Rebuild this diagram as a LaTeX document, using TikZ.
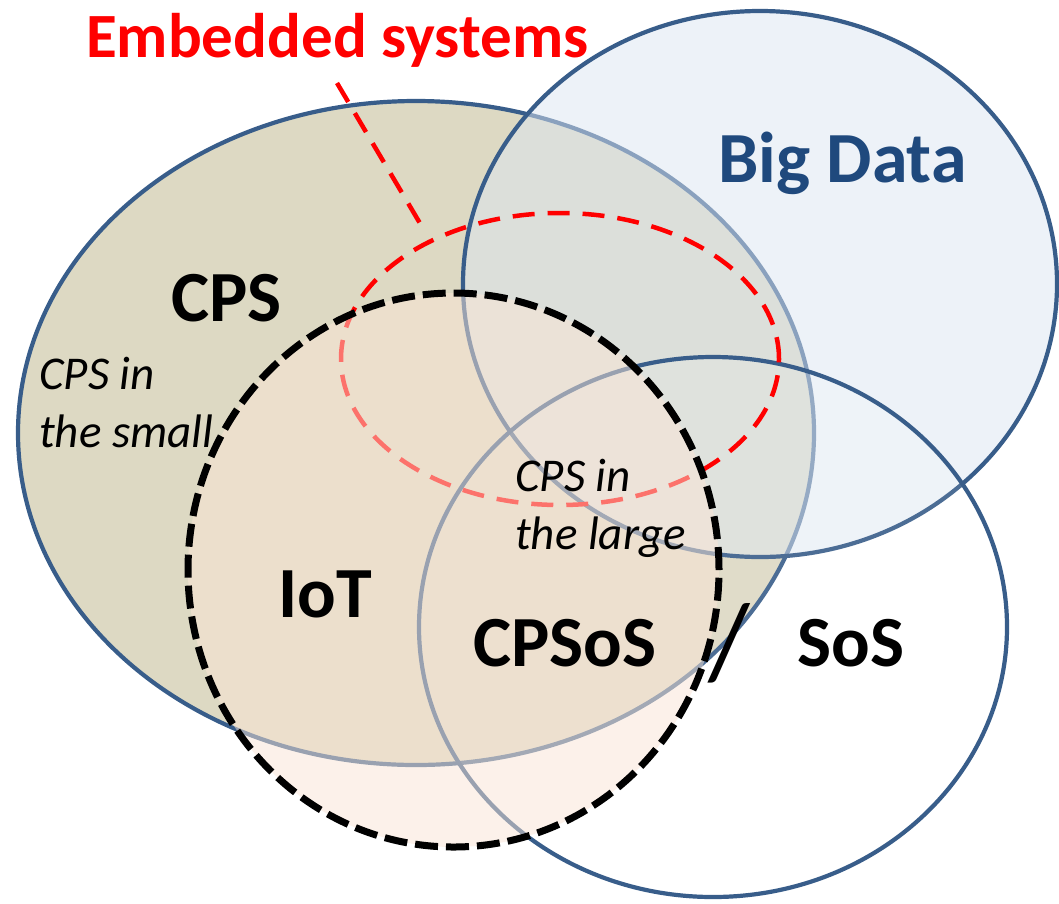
\documentclass[tikz,border=0pt]{standalone}
\usepackage{fontspec}
\setmainfont{Carlito}
\definecolor{cpsfill}{HTML}{DDD9C3}
\definecolor{edgeblue}{HTML}{385D8A}
\definecolor{bdfill}{HTML}{DCE6F2}
\definecolor{iotfill}{HTML}{FBE5D6}
\definecolor{bdtext}{HTML}{1F497D}
\begin{document}
\begin{tikzpicture}[x=1pt,y=-1pt,
  setedge/.style={draw=edgeblue, line width=4.2pt},
  reddash/.style={draw=red, line width=4.5pt, dash pattern=on 22pt off 13pt},
  iotdash/.style={draw=black, line width=7pt, dash pattern=on 23pt off 8pt},
  bigtxt/.style={font=\fontsize{72}{86}\selectfont\bfseries, inner sep=0pt, anchor=base west},
  smalltxt/.style={font=\fontsize{47}{58}\selectfont\itshape, inner sep=0pt, align=left, anchor=base west}]
\useasboundingbox (0,0) rectangle (1059,903);
\fill[white] (0,0) rectangle (1059,903);

% set centres
\coordinate (cpsc) at (416,433);
\coordinate (bdc)  at (760,284);
\coordinate (sosc) at (713,627);
\coordinate (esc)  at (560,359);
\coordinate (iotc) at (453.5,570);

% CPS
\path[fill=cpsfill, setedge] (cpsc) ellipse [x radius=398pt, y radius=332pt];
% Big Data
\path[fill=bdfill, fill opacity=0.5, setedge] (bdc) ellipse [x radius=297pt, y radius=273pt];
% SoS
\path[fill=white, fill opacity=0.1, setedge] (sosc) ellipse [x radius=294pt, y radius=270pt];
% Embedded systems
\draw[reddash] (esc) ellipse [x radius=219pt, y radius=146pt];
% IoT
\fill[iotfill, fill opacity=0.5] (iotc) ellipse [x radius=265.5pt, y radius=277pt];
\draw[iotdash] (iotc) ellipse [x radius=265.5pt, y radius=277pt];

% labels
\node[bigtxt, text=red, font=\fontsize{63}{75}\selectfont\bfseries] (emb) at (86,57) {Embedded systems};
\coordinate (leadtop) at (337,83);
\coordinate (leadend) at (421,225);
\draw[reddash] (leadtop) -- (leadend);

\node[bigtxt, text=bdtext] (bd) at (718,182) {Big Data};
\node[bigtxt] (cps) at (171,321) {CPS};
\node[bigtxt] (iot) at (278,617) {IoT};
\node[bigtxt] (cpsos) at (473,666) {CPSoS};
\node[inner sep=0pt, anchor=center, font=\fontsize{108}{120}\selectfont] (slash) at (729,643) {/};
\node[bigtxt] (sos) at (797,666) {SoS};
\node[smalltxt] (small) at (39,447) {CPS in\\the small};
\node[smalltxt] (large) at (515,549) {CPS in\\the large};
\end{tikzpicture}
\end{document}
